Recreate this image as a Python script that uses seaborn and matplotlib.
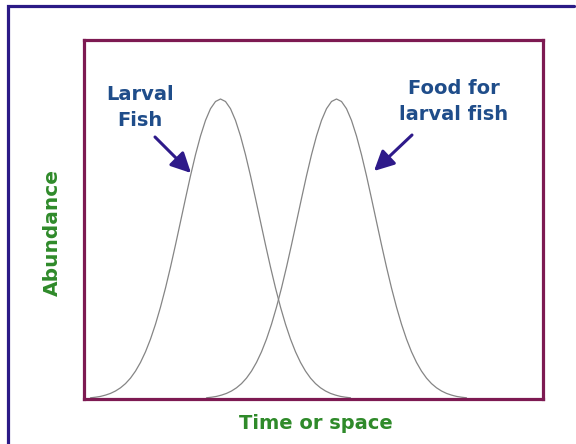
import matplotlib
matplotlib.use("Agg")
import matplotlib.pyplot as plt
from matplotlib.lines import Line2D
import seaborn as sns
import pandas as pd

# ---- data ----
time_larval = [7, 12, 17, 22, 27, 32, 37, 42, 47, 52, 57, 62, 67, 72, 77, 82, 87, 92,
               97, 102, 107, 112, 117, 122, 127, 132, 137, 142, 147, 152, 157, 162,
               167, 172, 177, 182, 187, 192, 197, 202, 207, 212, 217, 222, 227, 232,
               237, 242, 247, 252, 257, 262, 267]
abund_larval = [1.2, 1.8, 2.6, 3.9, 5.6, 8.0, 11.2, 15.4, 20.9, 27.9, 36.6, 47.2, 59.9,
                74.8, 91.9, 111.0, 131.9, 154.2, 177.3, 200.5, 223.2, 244.3, 263.0,
                278.6, 290.3, 297.5, 300.0, 297.5, 290.3, 278.6, 263.0, 244.3, 223.2,
                200.5, 177.3, 154.2, 131.9, 111.0, 91.9, 74.8, 59.9, 47.2, 36.6, 27.9,
                20.9, 15.4, 11.2, 8.0, 5.6, 3.9, 2.6, 1.8, 1.2]
time_food = [123, 128, 133, 138, 143, 148, 153, 158, 163, 168, 173, 178, 183, 188, 193,
             198, 203, 208, 213, 218, 223, 228, 233, 238, 243, 248, 253, 258, 263, 268,
             273, 278, 283, 288, 293, 298, 303, 308, 313, 318, 323, 328, 333, 338, 343,
             348, 353, 358, 363, 368, 373, 378, 383]
abund_food = [1.2, 1.8, 2.6, 3.9, 5.6, 8.0, 11.2, 15.4, 20.9, 27.9, 36.6, 47.2, 59.9,
              74.8, 91.9, 111.0, 131.9, 154.2, 177.3, 200.5, 223.2, 244.3, 263.0,
              278.6, 290.3, 297.5, 300.0, 297.5, 290.3, 278.6, 263.0, 244.3, 223.2,
              200.5, 177.3, 154.2, 131.9, 111.0, 91.9, 74.8, 59.9, 47.2, 36.6, 27.9,
              20.9, 15.4, 11.2, 8.0, 5.6, 3.9, 2.6, 1.8, 1.2]
series_names = ["Larval Fish", "Food for larval fish"]
label_larval = "Larval\nFish"
label_food = "Food for\nlarval fish"
x_label = "Time or space"
y_label = "Abundance"

df = pd.concat([
    pd.DataFrame({"t": time_larval, "a": abund_larval, "series": series_names[0]}),
    pd.DataFrame({"t": time_food, "a": abund_food, "series": series_names[1]}),
], ignore_index=True)

sns.set_theme(style="white")
plt.rcParams["font.family"] = ["DejaVu Sans"]

W, H = 576, 444
fig = plt.figure(figsize=(W / 100, H / 100), dpi=100)
fig.patch.set_facecolor("white")

ax = fig.add_axes([83.5 / W, 1 - 399 / H, 459 / W, 359 / H])
sns.lineplot(data=df, x="t", y="a", units="series", estimator=None, sort=False,
             color="#858585", linewidth=0.9, ax=ax, legend=False)
ax.set_xlim(0, 459)
ax.set_ylim(0, 359)
ax.set_xticks([])
ax.set_yticks([])
ax.set_xlabel("")
ax.set_ylabel("")
for s in ax.spines.values():
    s.set_visible(True)
    s.set_color("#7d1a52")
    s.set_linewidth(2.3)

# outer frame (left and top)
fig.add_artist(Line2D([8 / W, 8 / W, 574 / W], [0, 1 - 6.5 / H, 1 - 6.5 / H],
                      transform=fig.transFigure, color="#2b1a86", linewidth=2.3,
                      solid_joinstyle="miter"))

# axis labels
green = "#2f8a2a"
fig.text(316 / W, 1 - 429 / H, x_label, ha="center", va="baseline",
         fontsize=14, fontweight="bold", color=green)
fig.text(58 / W, 1 - 232 / H, y_label, ha="center", va="baseline", rotation=90,
         rotation_mode="anchor", fontsize=14.5, fontweight="bold", color=green)

# annotations (baseline of the last line)
blue = "#1f4d8a"
fig.text(140 / W, 1 - 126 / H, label_larval, ha="center", va="baseline",
         multialignment="center", linespacing=1.5,
         fontsize=14, fontweight="bold", color=blue)
fig.text(454 / W, 1 - 119.5 / H, label_food, ha="center", va="baseline",
         multialignment="center", linespacing=1.45,
         fontsize=14, fontweight="bold", color=blue)

arrow_color = "#2e1a8a"
aprops = dict(arrowstyle="-|>,head_length=1.2,head_width=0.6", mutation_scale=10,
              color=arrow_color, lw=2.2, shrinkA=0, shrinkB=0)
ax.annotate("", xy=(191 - 83.5, 399 - 173), xytext=(155 - 83.5, 399 - 137),
            arrowprops=aprops)
ax.annotate("", xy=(374 - 83.5, 399 - 171), xytext=(412 - 83.5, 399 - 135),
            arrowprops=aprops)

fig.savefig("out.png", dpi=100)
